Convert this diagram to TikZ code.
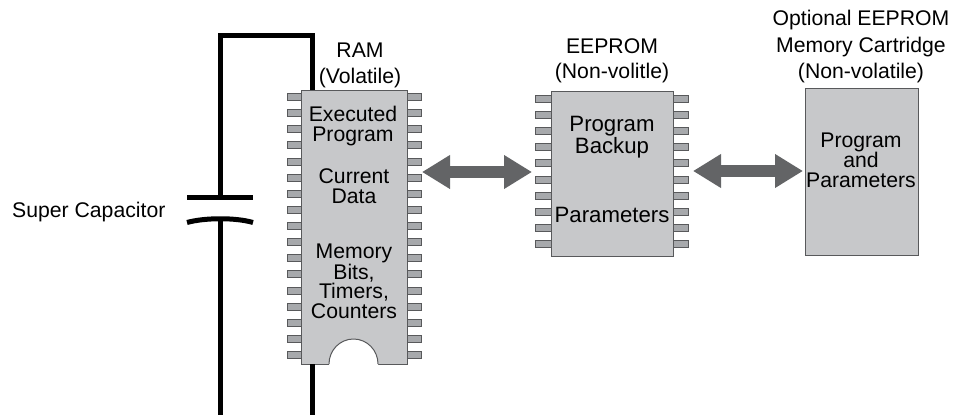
\documentclass[tikz,border=0pt]{standalone}
\usepackage{fontspec}
\setmainfont{Liberation Sans}
\usepackage{tikz}
\usetikzlibrary{arrows.meta}
\definecolor{chipgray}{HTML}{C7C8CA}
\definecolor{pingray}{HTML}{A7A9AC}
\definecolor{edgegray}{HTML}{58595B}
\definecolor{arrowgray}{HTML}{636466}
\tikzstyle{chip} = [rectangle, draw=edgegray, line width=1pt, fill=chipgray, inner sep=0pt]
\tikzstyle{pin} = [rectangle, draw=edgegray, line width=1pt, fill=pingray, inner sep=0pt, minimum height=7pt]
\tikzstyle{title} = [align=center, inner sep=0pt, font=\fontsize{21.2}{25}\selectfont]
\tikzstyle{inside} = [align=center, inner sep=0pt, font=\fontsize{21.2}{19.5}\selectfont]
\tikzstyle{insidelarge} = [align=center, inner sep=0pt, font=\fontsize{22.2}{19}\selectfont]
\tikzstyle{wire} = [line width=5pt, line cap=butt]
\tikzstyle{arrow} = [line width=12.5pt, arrowgray, {Triangle[length=28pt,width=32pt]}-{Triangle[length=28pt,width=32pt]}]

\begin{document}
\begin{tikzpicture}[x=1pt,y=-1pt]
\useasboundingbox (0,0) rectangle (967,415);
% pins
\foreach \i in {0,...,16} {
\node (ramleft\i) [pin, minimum width=14pt] at (294,97+16.125*\i) {};
\node (ramright\i) [pin, minimum width=14pt] at (414,97+16.125*\i) {};
}
\foreach \i in {0,...,9} {
\node (eepromleft\i) [pin, minimum width=16pt] at (543,99+16.1*\i) {};
\node (eepromright\i) [pin, minimum width=15pt] at (680.5,99+16.1*\i) {};
}
% chips
\node (ram) [chip, minimum width=106pt, minimum height=274pt] at (354,227) {};
\node (eeprom) [chip, minimum width=122pt, minimum height=165pt] at (612,173.5) {};
\node (cartridge) [chip, minimum width=113pt, minimum height=167pt] at (861.5,171.5) {};
% notch
\fill [white] (329,365) -- (329,364) arc (180:360:24.5 and 25) -- (378,365) -- cycle;
\draw [edgegray, line width=1pt] (329,364) arc (180:360:24.5 and 25);
% capacitor
\coordinate (platetop) at (220.5,197);
\coordinate (platebottom) at (220.5,219);
\coordinate (topleft) at (220.5,35.5);
\coordinate (topright) at (312,35.5);
\coordinate (ramtop) at (312,90);
\coordinate (rambottom) at (312,364);
\coordinate (leftend) at (220.5,415);
\coordinate (rightend) at (312,415);
\draw [wire] (187,197) -- (253,197);
\draw [wire] (187,222.5) .. controls (205,217.5) and (236,217.5) .. (253,222.5);
\draw [wire, line join=miter] (platetop) -- (topleft) -- (topright) -- (ramtop);
\draw [wire] (platebottom) -- (leftend);
\draw [wire] (rambottom) -- (rightend);
% arrows
\coordinate (ramport) at (422,172);
\coordinate (eepromin) at (532,172);
\coordinate (eepromout) at (693,171);
\coordinate (cartport) at (803,171);
\draw [arrow] (ramport) -- (eepromin);
\draw [arrow] (eepromout) -- (cartport);
% labels
\node (caplabel) [title, anchor=west] at (12,212) {Super Capacitor};
\node (ramlabel) [title] at (360,65) {RAM\\[1pt](Volatile)};
\node (eepromlabel) [title] at (612,61) {EEPROM\\(Non-volitle)};
\node (cartlabel) [title] at (861,47) {Optional EEPROM\\[1.5pt]Memory Cartridge\\[1.5pt](Non-volatile)};
\node (ramtext1) [inside] at (353,126) {Executed\\Program};
\node (ramtext2) [inside] at (354,186) {Current\\Data};
\node (ramtext3) [inside] at (354,281) {Memory\\Bits,\\Timers,\\Counters};
\node (eepromtext1) [insidelarge] at (612,137) {Program\\Backup};
\node (eepromtext2) [insidelarge] at (612,215) {Parameters};
\node (carttext) [inside] at (861,160) {Program\\and\\Parameters};
\end{tikzpicture}
\end{document}
